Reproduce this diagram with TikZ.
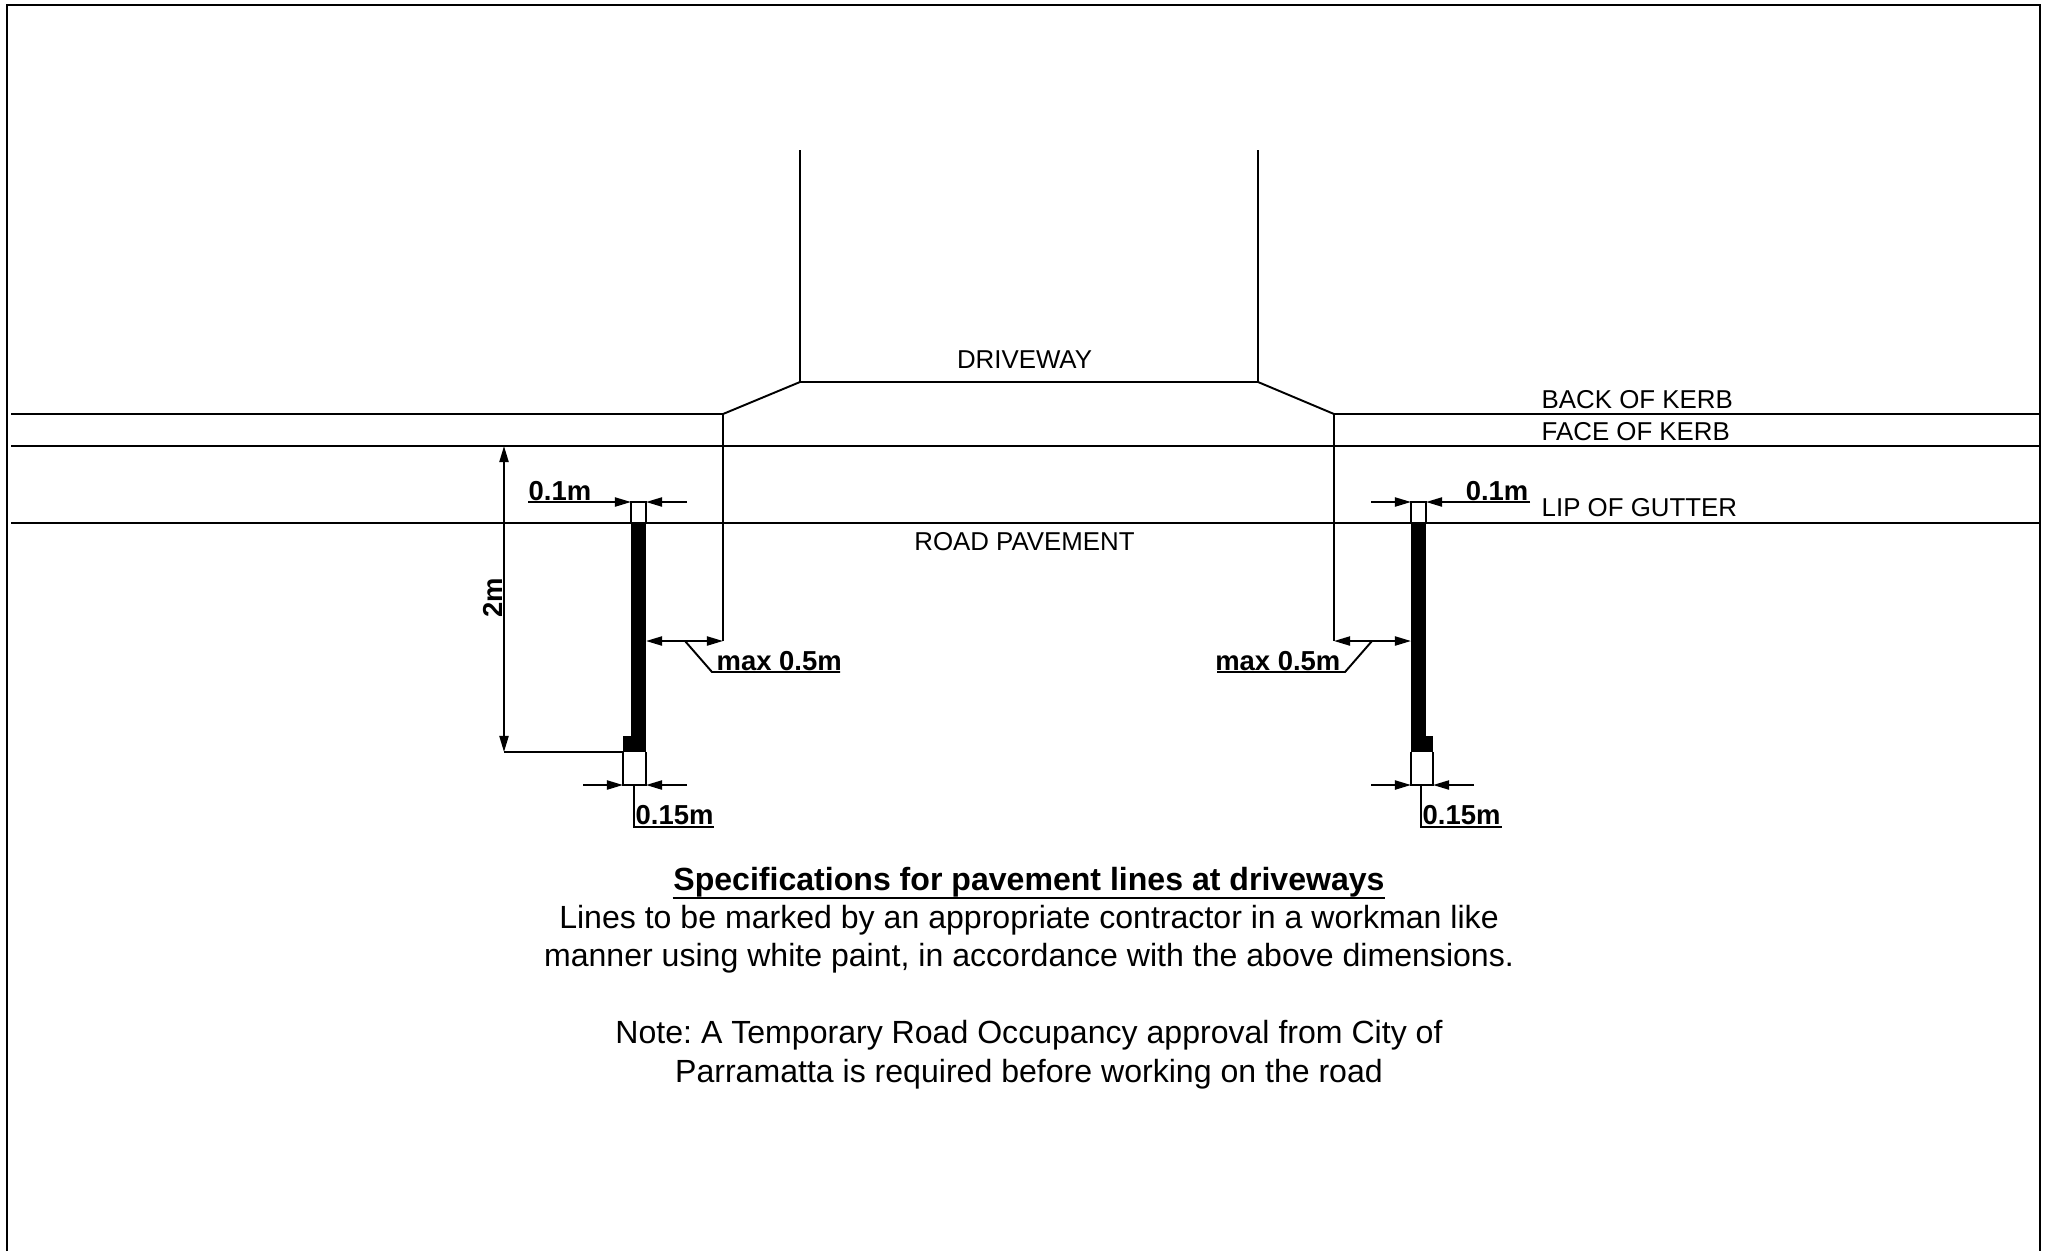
\documentclass[tikz,border=0pt]{standalone}
\usepackage{fontspec}
\setmainfont{Liberation Sans}
\usetikzlibrary{calc,arrows.meta}
\tikzset{
    plan/.style={line width=0.55pt},
    dim/.style={line width=0.55pt, -{Triangle[length=4.6pt,width=2.6pt]}},
    dimboth/.style={line width=0.55pt, {Triangle[length=4.6pt,width=2.6pt]}-{Triangle[length=4.6pt,width=2.6pt]}},
    lbl/.style={inner sep=0pt, font=\fontsize{7.35}{9}\selectfont},
    dimlbl/.style={inner sep=0pt, font=\fontsize{7.8}{9}\selectfont\bfseries},
    body/.style={inner sep=0pt, anchor=base, font=\fontsize{9.12}{11}\selectfont\frenchspacing},
    titlelbl/.style={body, font=\fontsize{9.12}{11}\selectfont\bfseries},
}

\begin{document}
\begin{tikzpicture}[x=0.01cm, y=-0.01cm]
    \useasboundingbox (0, 0) rectangle (2049, 1251);
    \draw [line width=0.7pt] (7, 1251) -- (7, 5) -- (2040, 5) -- (2040, 1251);

    \coordinate (a) at (723, 414);
    \coordinate (b) at (800, 382);
    \coordinate (c) at (1258, 382);
    \coordinate (d) at (1334, 414);
    \draw [plan] (11, 414) -- (a) -- (b) -- (c) -- (d) -- (2040, 414);
    \draw [plan] (11, 446) -- (2040, 446);
    \draw [plan] (11, 523) -- (2040, 523);
    \draw [plan] (b) -- (800, 150);
    \draw [plan] (c) -- (1258, 150);
    \draw [plan] (a) -- (723, 641);
    \draw [plan] (d) -- (1334, 641);

    % left line
    \fill (631, 522) rectangle (646, 752);
    \fill (623, 736) rectangle (631, 752);
    \draw [plan] (631, 522) -- (631, 502) -- (646, 502) -- (646, 522);
    \draw [plan] (623, 752) -- (623, 785) -- (646, 785) -- (646, 752);
    \draw [dim] (528, 502) -- (631, 502);
    \draw [dim] (687, 502) -- (646, 502);
    \draw [dim] (583, 785) -- (623, 785);
    \draw [dim] (687, 785) -- (646, 785);
    \draw [dimboth] (646, 641) -- (723, 641);
    \draw [dimboth] (504, 446) -- (504, 752);
    \draw [plan] (504, 446) -- (640, 446);
    \draw [plan] (504, 752) -- (623, 752);
    \draw [plan] (685, 641) -- (712, 672) -- (840, 672);
    \draw [plan] (634, 785) -- (634, 827) -- (714, 827);
    \node (lo) [dimlbl, anchor=base west] at (528, 500) {0.1m};
    \node (lm) [dimlbl, anchor=base west] at (716, 670) {max 0.5m};
    \node (lf) [dimlbl, anchor=base west] at (635, 824) {0.15m};
    \node (lt) [dimlbl, anchor=base, rotate=90] at (502, 598) {2m};

    % right line
    \fill (1411, 522) rectangle (1426, 752);
    \fill (1426, 736) rectangle (1433, 752);
    \draw [plan] (1411, 522) -- (1411, 502) -- (1426, 502) -- (1426, 522);
    \draw [plan] (1411, 752) -- (1411, 785) -- (1433, 785) -- (1433, 752);
    \draw [dim] (1371, 502) -- (1411, 502);
    \draw [dim] (1530, 502) -- (1426, 502);
    \draw [dim] (1371, 785) -- (1411, 785);
    \draw [dim] (1474, 785) -- (1433, 785);
    \draw [dimboth] (1334, 641) -- (1411, 641);
    \draw [plan] (1372, 641) -- (1345, 672) -- (1217, 672);
    \draw [plan] (1421, 785) -- (1421, 827) -- (1502, 827);
    \node (ro) [dimlbl, anchor=base east] at (1529, 500) {0.1m};
    \node (rm) [dimlbl, anchor=base east] at (1341, 670) {max 0.5m};
    \node (rf) [dimlbl, anchor=base west] at (1422, 824) {0.15m};

    \node (dw) [lbl, anchor=base] at (1024.5, 368) {DRIVEWAY};
    \node (rp) [lbl, anchor=base] at (1024.5, 550) {ROAD PAVEMENT};
    \node (bk) [lbl, anchor=base west] at (1541, 408) {BACK OF KERB};
    \node (fk) [lbl, anchor=base west] at (1541, 440) {FACE OF KERB};
    \node (lg) [lbl, anchor=base west] at (1541, 516) {LIP OF GUTTER};

    \node (title) [titlelbl] at (1029, 890) {Specifications for pavement lines at driveways};
    \draw [plan] ($ (title.base west) + (0, 8) $) -- ($ (title.base east) + (0, 8) $);
    \node (la) [body] at (1029, 928) {Lines to be marked by an appropriate contractor in a workman like};
    \node (lb) [body] at (1029, 966) {manner using white paint, in accordance with the above dimensions.};
    \node (na) [body] at (1029, 1043) {Note: A Temporary Road Occupancy approval from City of};
    \node (nb) [body] at (1029, 1082) {Parramatta is required before working on the road};
\end{tikzpicture}
\end{document}
